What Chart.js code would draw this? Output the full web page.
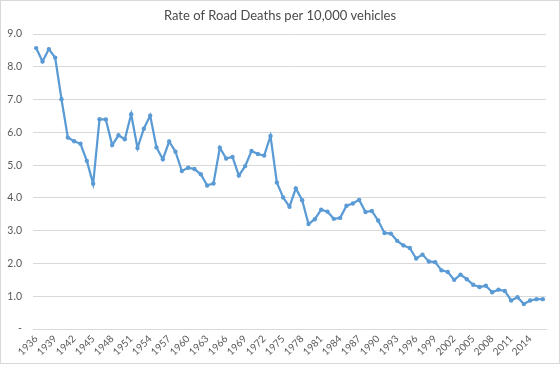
<!DOCTYPE html>
<html><head><meta charset="utf-8">
<script src="https://cdn.jsdelivr.net/npm/chart.js@4.4.1/dist/chart.umd.min.js"></script>
<style>html,body{margin:0;padding:0;background:#fff}#wrap{width:560px;height:365px;position:relative}</style>
</head><body><div id="wrap"><canvas id="c" width="560" height="365"></canvas></div>
<script>
const title = "Rate of Road Deaths per 10,000 vehicles";
const years = [];
for (let y = 1936; y <= 2016; y++) years.push(String(y));
const rates = [
 8.57, 8.16, 8.54, 8.28, 7.01, 5.84, 5.73, 5.65, 5.13, 4.43,
 6.40, 6.39, 5.61, 5.91, 5.79, 6.55, 5.52, 6.11, 6.51, 5.54,
 5.18, 5.72, 5.41, 4.82, 4.92, 4.88, 4.72, 4.38, 4.44, 5.53,
 5.20, 5.25, 4.68, 4.97, 5.43, 5.34, 5.29, 5.89, 4.47, 4.01,
 3.73, 4.29, 3.93, 3.20, 3.35, 3.64, 3.58, 3.36, 3.39, 3.76,
 3.83, 3.94, 3.57, 3.60, 3.31, 2.93, 2.91, 2.69, 2.55, 2.47,
 2.15, 2.27, 2.06, 2.04, 1.79, 1.74, 1.50, 1.66, 1.52, 1.35,
 1.28, 1.32, 1.12, 1.20, 1.16, 0.87, 0.97, 0.76, 0.87, 0.91,
 0.91
];
const yTicks = ["-", "1.0", "2.0", "3.0", "4.0", "5.0", "6.0", "7.0", "8.0", "9.0"];
const labelEvery = 3;

const framePlugin = {
  id: 'frame',
  afterDraw(chart) {
    const ctx = chart.ctx;
    ctx.save();
    ctx.strokeStyle = '#d9d9d9';
    ctx.lineWidth = 1;
    ctx.strokeRect(0.5, 0.5, 559, 363);
    ctx.fillStyle = '#4a4a4a';
    ctx.font = '13px Lato';
    ctx.textAlign = 'center';
    ctx.textBaseline = 'middle';
    ctx.fillText(title, 280, 16);
    ctx.restore();
  }
};

new Chart(document.getElementById('c'), {
  type: 'line',
  data: {
    labels: years,
    datasets: [{
      data: rates,
      borderColor: '#5b9bd5',
      backgroundColor: '#5b9bd5',
      borderWidth: 2.25,
      pointRadius: 2.2,
      pointBorderWidth: 0,
      pointBackgroundColor: '#5b9bd5',
      tension: 0
    }]
  },
  options: {
    responsive: false,
    animation: false,
    layout: { padding: { left: 0, right: 14, top: 34, bottom: 0 } },
    plugins: {
      legend: { display: false },
      tooltip: { enabled: false },
      title: { display: false }
    },
    scales: {
      x: {
        offset: true,
        grid: { display: false, drawTicks: false },
        border: { display: true, color: '#d9d9d9', width: 1 },
        ticks: {
          autoSkip: false,
          maxRotation: 45,
          minRotation: 45,
          padding: 4,
          color: '#595959',
          font: { family: 'Lato', size: 10 },
          callback: function(v, i) { return (i % labelEvery === 0) ? years[i] : ''; }
        },
        afterFit(s) { s.height = 36; }
      },
      y: {
        min: 0, max: 9,
        grid: { color: '#d9d9d9', drawTicks: false, lineWidth: 1 },
        border: { display: false },
        ticks: {
          stepSize: 1,
          padding: 11,
          color: '#595959',
          font: { family: 'Lato', size: 10.5 },
          callback: function(v) { return yTicks[Math.round(v)]; }
        },
        afterFit(s) { s.width = 33; }
      }
    }
  },
  plugins: [framePlugin]
});
</script>
</body></html>
